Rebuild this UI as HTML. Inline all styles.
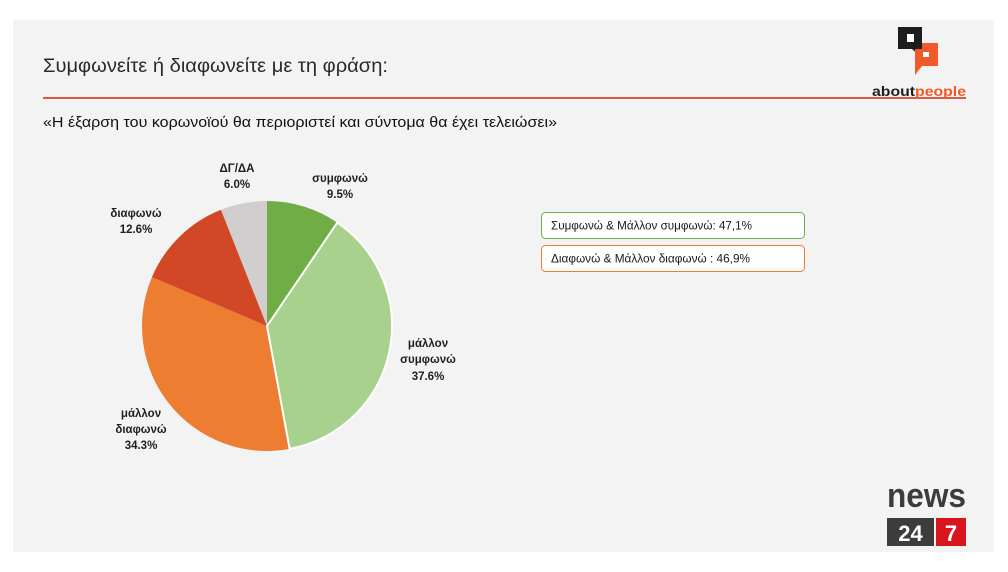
<!DOCTYPE html>
<html>
<head>
<meta charset="utf-8">
<style>
html,body{margin:0;padding:0;background:#ffffff;}
svg{display:block;}
text{font-family:"Liberation Sans","DejaVu Sans",sans-serif;}
</style>
</head>
<body>
<svg width="1008" height="572" viewBox="0 0 1008 572" xmlns="http://www.w3.org/2000/svg">
  <rect x="0" y="0" width="1008" height="572" fill="#ffffff"/>
  <rect x="13" y="20" width="981" height="532" fill="#f3f3f3"/>

  <!-- Title -->
  <text x="43" y="72" font-size="19.5" fill="#2a2a2a" textLength="345" lengthAdjust="spacingAndGlyphs">Συμφωνείτε ή διαφωνείτε με τη φράση:</text>
  <!-- Red rule -->
  <line x1="43" y1="98" x2="966" y2="98" stroke="#da5a3f" stroke-width="2"/>
  <!-- Subtitle -->
  <text x="43" y="127" font-size="14.5" fill="#111111" textLength="514" lengthAdjust="spacingAndGlyphs">«Η έξαρση του κορωνοϊού θα περιοριστεί και σύντομα θα έχει τελειώσει»</text>

  <!-- aboutpeople logo -->
  <rect x="898" y="27" width="24" height="22" fill="#1d1d1b"/>
  <polygon points="912,49 922,49 922,58" fill="#1d1d1b"/>
  <rect x="907" y="34" width="7" height="8" fill="#ffffff"/>
  <rect x="915" y="43" width="23" height="23" fill="#f05a28"/>
  <polygon points="915,60 922,66 915,75" fill="#f05a28"/>
  <rect x="915" y="43" width="7" height="6" fill="#1d1d1b"/>
  <rect x="923" y="52" width="6" height="5" fill="#ffffff"/>
  <text x="872" y="96" font-size="14" font-weight="bold" fill="#1d1d1b" textLength="94" lengthAdjust="spacingAndGlyphs">about<tspan fill="#f05a28">people</tspan></text>

  <!-- Pie -->
  <path d="M267,326 L267,201 A125,125 0 0 1 337.26,222.61 Z" fill="#70ad47"/>
  <path d="M267,326 L289.65,448.92 A125,125 0 0 1 151.96,277.07 Z" fill="#ed7d31"/>
  <path d="M267,326 L151.96,277.07 A125,125 0 0 1 220.99,209.78 Z" fill="#d24726"/>
  <path d="M267,326 L220.99,209.78 A125,125 0 0 1 267,201 Z" fill="#d0cece"/>
  <path d="M267,326 L337.26,222.61 A125,125 0 0 1 289.65,448.92 Z" fill="#a9d18e" stroke="#ffffff" stroke-width="2" stroke-linejoin="round"/>

  <!-- Pie labels -->
  <g font-size="11.5" font-weight="bold" fill="#1f1f1f" text-anchor="middle">
    <text x="237" y="172">ΔΓ/ΔΑ</text>
    <text x="237" y="188">6.0%</text>
    <text x="340" y="182">συμφωνώ</text>
    <text x="340" y="198">9.5%</text>
    <text x="136" y="217">διαφωνώ</text>
    <text x="136" y="233">12.6%</text>
    <text x="428" y="347">μάλλον</text>
    <text x="428" y="363">συμφωνώ</text>
    <text x="428" y="380">37.6%</text>
    <text x="141" y="417">μάλλον</text>
    <text x="141" y="433">διαφωνώ</text>
    <text x="141" y="449">34.3%</text>
  </g>

  <!-- Summary boxes -->
  <rect x="541.5" y="212.5" width="263" height="26" rx="4" ry="4" fill="#ffffff" stroke="#70ad47" stroke-width="1"/>
  <text x="551" y="229.5" font-size="11.5" fill="#1a1a1a" textLength="201" lengthAdjust="spacingAndGlyphs">Συμφωνώ &amp; Μάλλον συμφωνώ: 47,1%</text>
  <rect x="541.5" y="245.5" width="263" height="26" rx="4" ry="4" fill="#ffffff" stroke="#ed7d31" stroke-width="1"/>
  <text x="551" y="262.5" font-size="11.5" fill="#1a1a1a" textLength="199" lengthAdjust="spacingAndGlyphs">Διαφωνώ &amp; Μάλλον διαφωνώ : 46,9%</text>

  <!-- news247 logo -->
  <text x="887" y="507" font-size="34" font-weight="bold" fill="#3c3c3c" textLength="79" lengthAdjust="spacingAndGlyphs">news</text>
  <rect x="887" y="518" width="47" height="28" fill="#3c3c3c"/>
  <rect x="936" y="518" width="30" height="28" fill="#d8141c"/>
  <text x="910.5" y="541" font-size="22" font-weight="bold" fill="#ffffff" text-anchor="middle">24</text>
  <text x="951" y="541" font-size="22" font-weight="bold" fill="#ffffff" text-anchor="middle">7</text>
</svg>
</body>
</html>
